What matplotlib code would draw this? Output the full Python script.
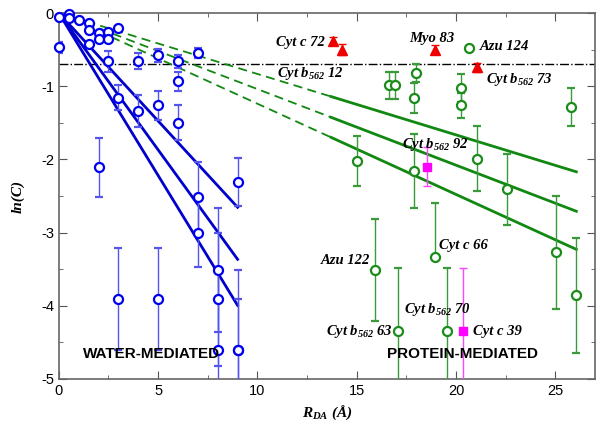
import numpy as np
import matplotlib
matplotlib.use("Agg")
import matplotlib.pyplot as plt

plt.rcParams['font.family'] = ['Liberation Sans', 'DejaVu Sans']
plt.rcParams['axes.unicode_minus'] = False
plt.rcParams['mathtext.fontset'] = 'custom'
plt.rcParams['mathtext.it'] = 'Liberation Serif:italic:bold'
plt.rcParams['mathtext.rm'] = 'Liberation Serif:italic:bold'
plt.rcParams['mathtext.bf'] = 'Liberation Serif:italic:bold'

# water-mediated points (blue circles)
water_x = [0, 0, 0.5, 0.5, 1.0, 1.5, 1.5, 1.5, 2.0, 2.0, 2.5, 2.5, 3.0, 2.5, 2.0,
           3.0, 4.0, 4.0, 5.0, 5.0, 6.0, 6.0, 6.0, 7.0, 7.0, 7.0, 3.0, 5.0,
           8.0, 8.0, 8.0, 9.0, 9.0, 9.0]
water_y = [-0.05, -0.47, -0.02, -0.07, -0.09, -0.14, -0.23, -0.42, -0.27, -0.35, -0.26, -0.35,
           -0.20, -0.66, -2.11, -1.16, -0.66, -1.34, -0.58, -1.26, -0.66, -0.93, -1.50,
           -0.55, -2.52, -3.00, -3.91, -3.91, -3.51, -3.91, -4.61, -2.31, -4.61, -4.61]
water_err = [0, 0.07, 0, 0, 0, 0, 0, 0, 0, 0, 0, 0, 0, 0.14, 0.40, 0.17, 0.11, 0.22,
             0.09, 0.20, 0.09, 0.13, 0.24, 0.07, 0.48, 0.47, 0.70, 0.70, 0.85, 0.91,
             1.10, 0.33, 1.10, 0.70]

# protein-mediated points (green circles)
prot_x = [16.6, 16.9, 18.0, 17.9, 20.25, 20.25, 20.65, 25.8, 15.0, 17.9, 21.05, 22.55,
          25.05, 26.05, 15.9, 17.05, 18.95, 19.55]
prot_y = [-0.99, -0.99, -0.82, -1.16, -1.02, -1.26, -0.48, -1.28, -2.02, -2.16, -1.99,
          -2.41, -3.27, -3.86, -3.51, -4.35, -3.33, -4.35]
prot_err_lo = [0.19, 0.19, 0.12, 0.21, 0.19, 0.17, 0, 0.26, 0.34, 0.50, 0.44, 0.49,
               0.77, 0.79, 0.70, 0.86, 0, 0.87]
prot_err_hi = [0.19, 0.19, 0.12, 0.21, 0.19, 0.17, 0, 0.26, 0.34, 0.50, 0.44, 0.49,
               0.77, 0.79, 0.70, 0.86, 0.73, 0.87]

# magenta squares
sq_x = [18.55, 20.35]
sq_y = [-2.10, -4.34]
sq_err = [0.27, 0.86]

# red triangles
tri_x = [13.8, 14.25, 18.95, 21.05]
tri_y = [-0.38, -0.50, -0.50, -0.74]
tri_err = [0.05, 0.08, 0.06, 0.06]

# decay fits ln(C) = slope * R
water_slopes = [-0.295, -0.374, -0.444]
prot_slopes = [-0.0833, -0.104, -0.124]
water_range = [0, 9]
prot_dash_range = [0, 13.7]
prot_solid_range = [13.7, 26.05]
half_level = np.log(0.5)

labels = [
    ('Cyt c 72', 13.4, -0.445, 'right'),
    (r'Cyt $b_{562}$ 12', 11.0, -0.88, 'left'),
    ('Myo 83', 18.8, -0.39, 'center'),
    ('Azu 124', 21.2, -0.51, 'left'),
    (r'Cyt $b_{562}$ 73', 21.5, -0.95, 'left'),
    (r'Cyt $b_{562}$ 92', 17.3, -1.84, 'left'),
    ('Azu 122', 15.66, -3.43, 'right'),
    ('Cyt c 66', 19.15, -3.22, 'left'),
    (r'Cyt $b_{562}$ 70', 17.4, -4.10, 'left'),
    (r'Cyt $b_{562}$ 63', 16.8, -4.40, 'right'),
    ('Cyt c 39', 20.86, -4.40, 'left'),
]

fig = plt.figure(figsize=(6, 4.34), dpi=100)
ax = fig.add_axes([0.098, 0.127, 0.894, 0.843])

# fit lines
for s in water_slopes:
    xs = np.array(water_range)
    ax.plot(xs, s * xs, color='#0000cc', lw=2, zorder=2)
for s in prot_slopes:
    xd = np.array(prot_dash_range)
    xs = np.array(prot_solid_range)
    ax.plot(xd, s * xd, color='#118811', lw=1.3, ls=(0, (5, 3)), zorder=2)
    ax.plot(xs, s * xs, color='#118811', lw=2, zorder=2)

ax.axhline(half_level, color='black', lw=1, ls='-.', zorder=1)

groups = [
    ax.errorbar(water_x, water_y, yerr=water_err, fmt='o', mfc='white', mec='#0000ee',
                mew=1.6, ms=6.5, ecolor='#5555ee', elinewidth=1, capsize=3, zorder=4),
    ax.errorbar(prot_x, prot_y, yerr=[prot_err_lo, prot_err_hi], fmt='o', mfc='white',
                mec='#1a8c1a', mew=1.6, ms=6.5, ecolor='#3a9a3a', elinewidth=1, capsize=3, zorder=4),
    ax.errorbar(sq_x, sq_y, yerr=sq_err, fmt='s', color='#ff00ff', ms=6,
                ecolor='#ff44ff', elinewidth=1, capsize=3, zorder=4),
    ax.errorbar(tri_x, tri_y, yerr=tri_err, fmt='^', color='#ee0000', ms=6.5,
                ecolor='#ee0000', elinewidth=1, capsize=3, zorder=4),
]
for g in groups:
    g.lines[0].set_clip_on(False)

for txt, x, y, ha in labels:
    ax.text(x, y, txt, ha=ha, va='baseline', family='Liberation Serif',
            style='italic', weight='bold', fontsize=10.5, zorder=5)

ax.text(1.2, -4.71, 'WATER-MEDIATED', fontsize=11, weight='bold', va='baseline', zorder=5)
ax.text(16.5, -4.71, 'PROTEIN-MEDIATED', fontsize=11, weight='bold', va='baseline', zorder=5)

ax.set_xlim(0, 27)
ax.set_ylim(-5, 0)
ax.set_xticks([0, 5, 10, 15, 20, 25])
ax.set_yticks([-5, -4, -3, -2, -1, 0])
ax.set_xticks(np.arange(2.5, 27, 5), minor=True)
ax.set_yticks(np.arange(-4.5, 0, 1), minor=True)
ax.tick_params(which='both', direction='in', top=True, right=True, color='#555555',
               labelsize=10.5)
ax.tick_params(which='major', length=6)
ax.tick_params(which='minor', length=3)
for sp in ax.spines.values():
    sp.set_color('#666666')
    sp.set_linewidth(1.2)

ax.set_xlabel(r'$R_{DA}$ (Å)', family='Liberation Serif', style='italic', weight='bold',
              fontsize=11)
ax.set_ylabel('ln(C)', family='Liberation Serif', style='italic', weight='bold', fontsize=11,
              labelpad=12)

fig.savefig('out.png', dpi=100)
